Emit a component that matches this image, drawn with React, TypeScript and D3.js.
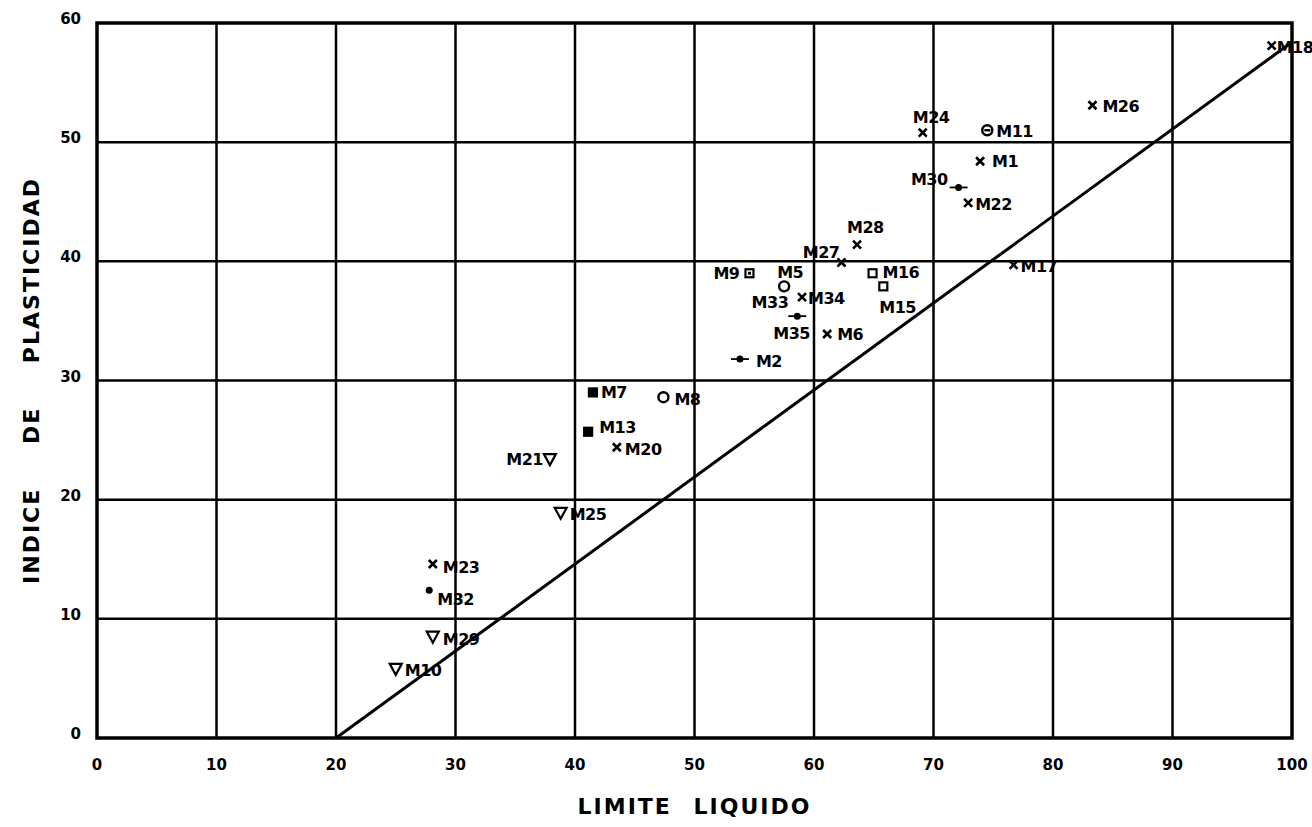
import React, { useEffect, useRef } from "react";
import * as d3 from "d3";

// muestras (carta de plasticidad)
const muestras = ["M18", "M26", "M11", "M24", "M1", "M30", "M22", "M28", "M27", "M17", "M9", "M5", "M16", "M15", "M34", "M33", "M35", "M6", "M2", "M7", "M8", "M13", "M20", "M21", "M25", "M23", "M32", "M29", "M10"];
const limiteLiquido = [98.3, 83.3, 74.5, 69.1, 73.9, 72.1, 72.9, 63.6, 62.3, 76.7, 54.6, 57.5, 64.9, 65.8, 59.0, 58.6, 58.6, 61.1, 53.8, 41.5, 47.4, 41.1, 43.5, 37.9, 38.8, 28.1, 27.8, 28.1, 25.0];
const indicePlasticidad = [58.1, 53.1, 51.0, 50.8, 48.4, 46.2, 44.9, 41.4, 39.9, 39.7, 39.0, 37.9, 39.0, 37.9, 37.0, 35.4, 35.4, 33.9, 31.8, 29.0, 28.6, 25.7, 24.4, 23.4, 18.9, 14.6, 12.4, 8.5, 5.8];
const simbolos = ["x", "x", "circleBar", "x", "x", "dot", "x", "x", "x", "x", "squareDot", "circle", "square", "square", "x", "dot", "none", "x", "dot", "squareFill", "circle", "squareFill", "x", "triangle", "triangle", "x", "dotOnly", "triangle", "triangle"];

const xTicks = [0, 10, 20, 30, 40, 50, 60, 70, 80, 90, 100];
const yTicks = [0, 10, 20, 30, 40, 50, 60];

// linea A: IP = 0.73 (LL - 20)
const lineaA = [20, 100];

// label placement: [dx, dy, anchor]
const etiquetas: { [k: string]: [number, number, string] } = {
    M18: [5, 7, "start"], M26: [10, 7, "start"], M11: [9, 7, "start"], M24: [-10, -10, "start"],
    M1: [12, 6, "start"], M30: [-11, -2, "end"], M22: [7, 7, "start"], M28: [-10, -12, "start"],
    M27: [-2, -5, "end"], M17: [7, 7, "start"], M9: [-10, 6, "end"], M5: [-7, -8, "start"],
    M16: [10, 5, "start"], M15: [-4, 27, "start"], M34: [6, 7, "start"], M33: [-9, -8, "end"],
    M35: [-24, 23, "start"], M6: [10, 6, "start"], M2: [16, 8, "start"], M7: [8, 6, "start"],
    M8: [11, 8, "start"], M13: [11, 1, "start"], M20: [8, 8, "start"], M21: [-7, 6, "end"],
    M25: [9, 7, "start"], M23: [10, 9, "start"], M32: [8, 15, "start"], M29: [10, 8, "start"],
    M10: [9, 7, "start"]
};

const FONT = "'DejaVu Sans', 'Liberation Sans', sans-serif";

function App() {
    const ref = useRef<SVGSVGElement | null>(null);

    useEffect(() => {
        const width = 1312, height = 827;
        const margin = { top: 23, right: 20, bottom: 89, left: 97 };
        const w = width - margin.left - margin.right;
        const h = height - margin.top - margin.bottom;

        const svg = d3.select(ref.current);
        svg.selectAll("*").remove();

        const x = d3.scaleLinear().domain([0, 100]).range([0, w]);
        const y = d3.scaleLinear().domain([0, 60]).range([h, 0]);

        const g = svg.append("g").attr("transform", "translate(" + [margin.left, margin.top] + ")");

        // grid
        g.selectAll("line.vx").data(xTicks.slice(1, -1)).enter().append("line")
            .attr("x1", d => x(d)).attr("x2", d => x(d)).attr("y1", 0).attr("y2", h)
            .attr("stroke", "#000").attr("stroke-width", 2.5);
        g.selectAll("line.hy").data(yTicks.slice(1, -1)).enter().append("line")
            .attr("y1", d => y(d)).attr("y2", d => y(d)).attr("x1", 0).attr("x2", w)
            .attr("stroke", "#000").attr("stroke-width", 2.5);

        g.append("rect").attr("x", 0).attr("y", 0).attr("width", w).attr("height", h)
            .attr("fill", "none").attr("stroke", "#000").attr("stroke-width", 3.5);

        // tick labels
        g.selectAll("text.xt").data(xTicks).enter().append("text")
            .attr("x", d => x(d)).attr("y", h + 32)
            .attr("text-anchor", "middle")
            .style("font-family", FONT).style("font-weight", "bold").style("font-size", "15px")
            .text(d => d);
        g.selectAll("text.yt").data(yTicks).enter().append("text")
            .attr("x", -16).attr("y", d => y(d) + 1)
            .attr("text-anchor", "end")
            .style("font-family", FONT).style("font-weight", "bold").style("font-size", "15px")
            .text(d => d);

        // axis titles
        g.append("text")
            .attr("x", w / 2).attr("y", h + 76)
            .attr("text-anchor", "middle")
            .style("font-family", FONT).style("font-weight", "bold").style("font-size", "22px")
            .style("letter-spacing", "2px").style("word-spacing", "12px")
            .text("LIMITE LIQUIDO");
        g.append("text")
            .attr("transform", "translate(" + [-58, y(30)] + ") rotate(-90)")
            .attr("text-anchor", "middle")
            .style("font-family", FONT).style("font-weight", "bold").style("font-size", "22px")
            .style("letter-spacing", "2px").style("word-spacing", "34px")
            .text("INDICE DE PLASTICIDAD");

        // linea A
        const line = d3.line<number>().x(d => x(d)).y(d => y(0.73 * (d - 20)));
        g.append("path").datum(lineaA).attr("d", line)
            .attr("fill", "none").attr("stroke", "#000").attr("stroke-width", 3);

        const data = muestras.map((m, i) => ({
            name: m, ll: limiteLiquido[i], ip: indicePlasticidad[i], sym: simbolos[i]
        }));

        const pts = g.selectAll("g.pt").data(data).enter().append("g")
            .attr("transform", d => "translate(" + [x(d.ll), y(d.ip)] + ")");

        pts.each(function (d) {
            const p = d3.select(this);
            if (d.sym === "x") {
                p.append("path").attr("d", "M-4,-4L4,4M4,-4L-4,4")
                    .attr("stroke", "#000").attr("stroke-width", 2.6);
            } else if (d.sym === "circle" || d.sym === "circleBar") {
                p.append("circle").attr("r", 5).attr("fill", "#fff")
                    .attr("stroke", "#000").attr("stroke-width", 2.4);
                if (d.sym === "circleBar") {
                    p.append("path").attr("d", "M-3,0L3,0").attr("stroke", "#000").attr("stroke-width", 2.4);
                }
            } else if (d.sym === "square" || d.sym === "squareDot" || d.sym === "squareFill") {
                p.append("rect").attr("x", -4).attr("y", -4).attr("width", 8).attr("height", 8)
                    .attr("fill", d.sym === "squareFill" ? "#000" : "#fff")
                    .attr("stroke", "#000").attr("stroke-width", 2.2);
                if (d.sym === "squareDot") {
                    p.append("rect").attr("x", -1.5).attr("y", -1.5).attr("width", 3).attr("height", 3).attr("fill", "#000");
                }
            } else if (d.sym === "dot") {
                p.append("path").attr("d", "M-9,0L9,0").attr("stroke", "#000").attr("stroke-width", 1.8);
                p.append("circle").attr("r", 3.5).attr("fill", "#000");
            } else if (d.sym === "dotOnly") {
                p.append("circle").attr("r", 3.5).attr("fill", "#000");
            } else if (d.sym === "triangle") {
                p.append("path").attr("d", "M-6,-5L6,-5L0,6Z").attr("fill", "#fff")
                    .attr("stroke", "#000").attr("stroke-width", 2.2);
            }

            const lab = etiquetas[d.name] || [8, 6, "start"];
            p.append("text")
                .attr("x", lab[0]).attr("y", lab[1])
                .attr("text-anchor", lab[2])
                .style("font-family", FONT).style("font-weight", "bold").style("font-size", "16px")
                .style("letter-spacing", "-0.5px")
                .text(d.name);
        });
    }, []);

    return (
        <svg ref={ref} width={1312} height={827} style={{ display: "block", position: "absolute", left: 0, top: 0, background: "#fff" }}></svg>
    );
}

export default App;
